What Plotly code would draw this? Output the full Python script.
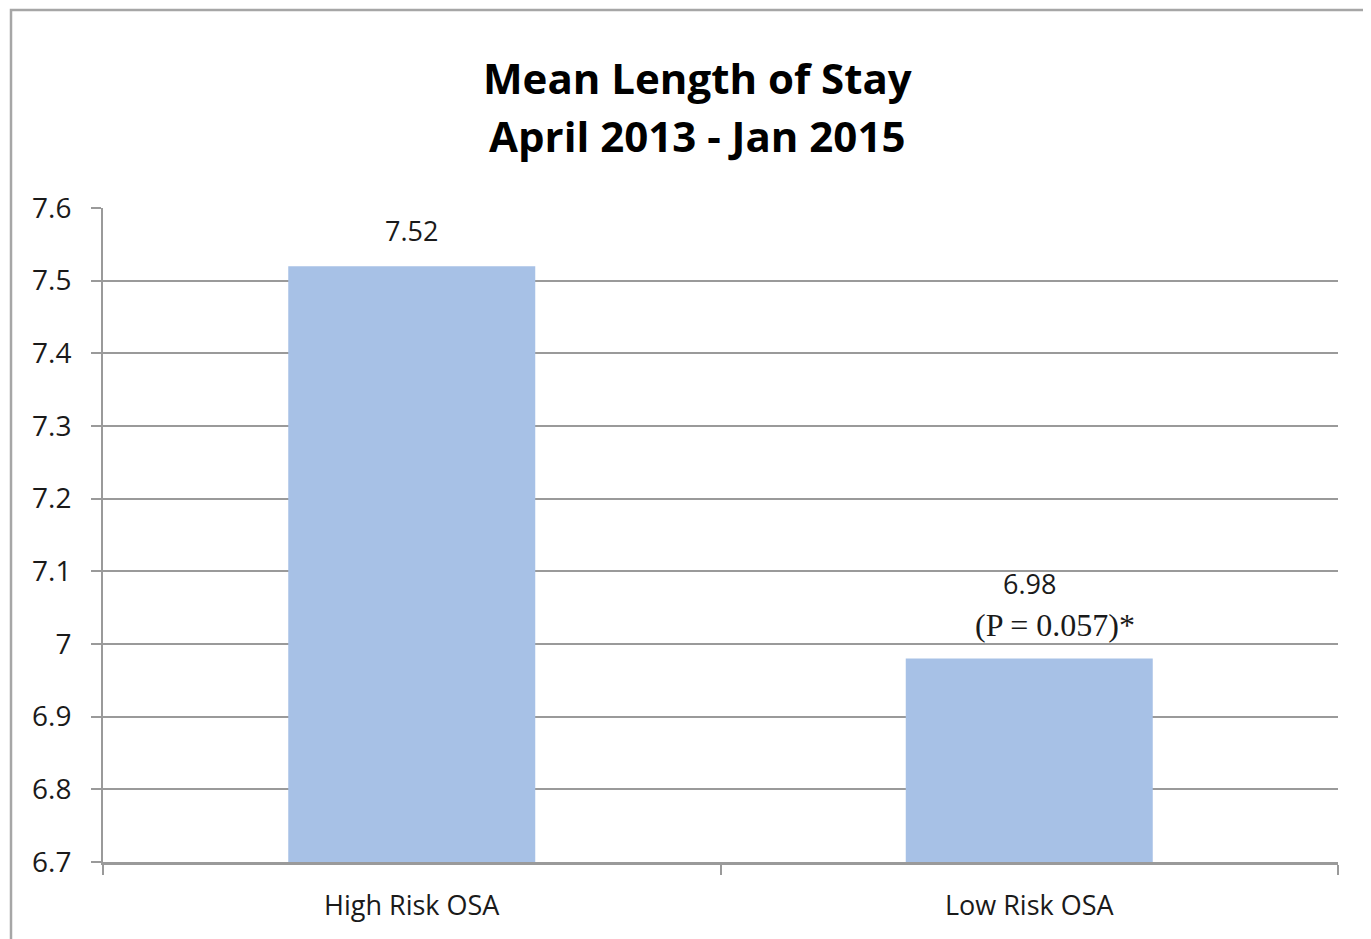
import plotly.graph_objects as go

categories = ["High Risk OSA", "Low Risk OSA"]
values = [7.52, 6.98]
value_labels = ["7.52", "6.98"]
p_note = "(P = 0.057)*"
title_lines = ["Mean Length of Stay", "April 2013 - Jan 2015"]
y_ticks = [6.7, 6.8, 6.9, 7.0, 7.1, 7.2, 7.3, 7.4, 7.5, 7.6]
y_tick_text = ["6.7", "6.8", "6.9", "7", "7.1", "7.2", "7.3", "7.4", "7.5", "7.6"]

W, H = 1371, 939
OFF = 8  # page offset of the figure in the screenshot
L, R, T, B = 103 - OFF, 33 + OFF, 208 - OFF, 77 + OFF
pw, ph = W - L - R, H - T - B

def px_x(x):
    return (x - OFF - L) / pw

def px_y(y):
    return (H - B - (y - OFF)) / ph

fig = go.Figure()
fig.add_trace(go.Bar(x=categories, y=values, marker=dict(color="#a7c1e6", line=dict(width=0)),
                     width=0.4))

sans = "Open Sans, Liberation Sans, sans-serif"
annos = []
for c, v, t in zip(categories, values, value_labels):
    annos.append(dict(x=c, y=v, xref="x", yref="y", text=t, showarrow=False,
                      yanchor="bottom", yshift=15 if t == "7.52" else 55,
                      font=dict(family=sans, size=27, color="#1a1a1a")))
annos.append(dict(x=categories[1], y=values[1], xref="x", yref="y", text=p_note, showarrow=False,
                  yanchor="bottom", yshift=14, xshift=26,
                  font=dict(family="Liberation Serif, DejaVu Serif, serif", size=32, color="#1a1a1a")))
for i, line in enumerate(title_lines):
    annos.append(dict(x=px_x(697), y=px_y(77 + 58 * i), xref="paper", yref="paper",
                      text="<b>" + line + "</b>", showarrow=False, yanchor="middle", xanchor="center",
                      font=dict(family=sans, size=42, color="#000000")))

fig.update_layout(
    width=W, height=H,
    margin=dict(l=L, r=R, t=T, b=B, autoexpand=False),
    paper_bgcolor="white", plot_bgcolor="white",
    showlegend=False,
    annotations=annos,
    shapes=[dict(type="rect", xref="paper", yref="paper",
                 x0=px_x(11), x1=px_x(W + 40),
                 y0=px_y(H + 40), y1=px_y(10),
                 line=dict(color="#a6a6a6", width=2.5), fillcolor="rgba(0,0,0,0)", layer="below")],
    bargap=0.6,
)
fig.update_yaxes(range=[6.7, 7.6], tickvals=y_ticks, ticktext=y_tick_text,
                 showgrid=True, gridcolor="#9a9a9a", gridwidth=1.5,
                 showline=True, linecolor="#9a9a9a", linewidth=2,
                 ticks="outside", ticklen=10, tickcolor="#9a9a9a", tickwidth=2,
                 ticklabelstandoff=14,
                 tickfont=dict(family=sans, size=28, color="#1a1a1a"),
                 zeroline=False, fixedrange=True)
fig.update_xaxes(showline=True, linecolor="#9a9a9a", linewidth=2.5,
                 ticks="outside", tickson="boundaries", ticklen=10, tickcolor="#9a9a9a", tickwidth=2,
                 ticklabelstandoff=18,
                 tickfont=dict(family=sans, size=27, color="#1a1a1a"),
                 showgrid=False, fixedrange=True)

fig.write_html("out.html")
